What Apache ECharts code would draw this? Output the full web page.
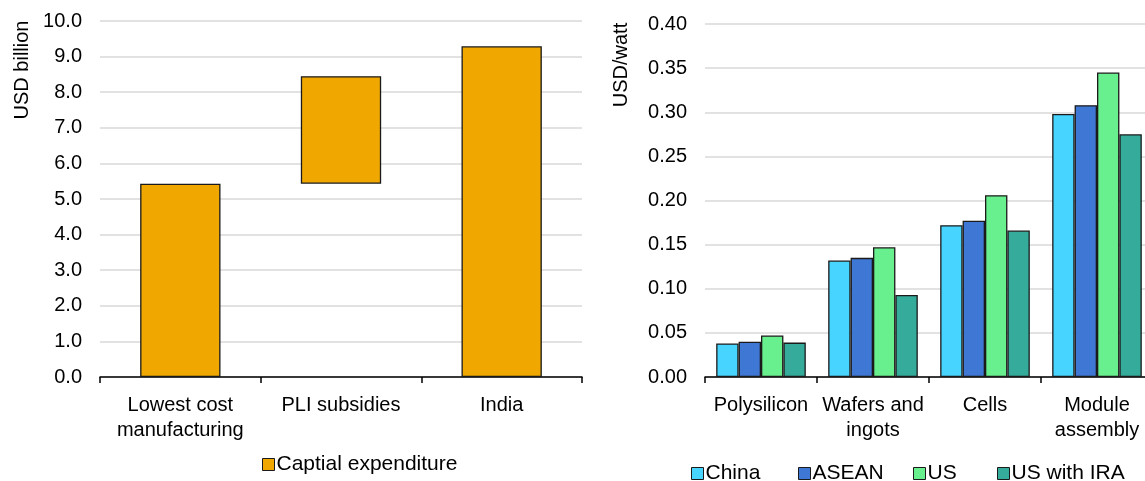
<!DOCTYPE html>
<html>
<head>
<meta charset="utf-8">
<script src="https://cdn.jsdelivr.net/npm/echarts@6/dist/echarts.min.js"></script>
<style>
html,body{margin:0;padding:0;background:#fff;}
#c{width:1145px;height:481px;}
</style>
</head>
<body>
<div id="c"></div>
<script>
// Left chart data
var leftCategories = ['Lowest cost\nmanufacturing', 'PLI subsidies', 'India'];
var leftBase = [0, 5.43, 0];
var leftValues = [5.43, 3.02, 9.29];
var leftSeriesName = 'Captial expenditure';

// Right chart data
var rightCategories = ['Polysilicon', 'Wafers and\ningots', 'Cells', 'Module\nassembly'];
var seriesNames = ['China', 'ASEAN', 'US', 'US with IRA'];
var china = [0.038, 0.132, 0.172, 0.298];
var asean = [0.040, 0.135, 0.177, 0.308];
var us = [0.047, 0.147, 0.206, 0.345];
var usIra = [0.039, 0.093, 0.166, 0.275];

var leftTicks = {min: 0, max: 10, interval: 1};
var rightTicks = {min: 0, max: 0.4, interval: 0.05};

var FONT = 'Liberation Sans, Arial, sans-serif';
var FS = 20;
var LFS = 21;
var colors = ['#47D4FF', '#3F78D4', '#68F08E', '#35AB9B'];
var border = '#1a1a1a';
var legendLefts = [686, 793, 908, 992];

var chart = echarts.init(document.getElementById('c'));

function yAxis(gi, t, dec) {
  return {
    type: 'value', gridIndex: gi, min: t.min, max: t.max, interval: t.interval,
    axisLine: {show: false}, axisTick: {show: false},
    axisLabel: {fontFamily: FONT, fontSize: FS, color: '#000', margin: 18,
      formatter: function (v) { return v.toFixed(dec); }},
    splitLine: {lineStyle: {color: '#d9d9d9', width: 1.5}}
  };
}
function xAxis(gi, cats) {
  return {
    type: 'category', gridIndex: gi, data: cats,
    axisLine: {lineStyle: {color: '#000', width: 1.5}},
    axisTick: {show: true, length: 6, lineStyle: {color: '#000', width: 1.5}},
    axisLabel: {fontFamily: FONT, fontSize: FS, color: '#000', margin: 16, lineHeight: 25, interval: 0}
  };
}
function legend(names, left, top) {
  return {data: names, left: left, top: top, icon: 'rect', itemWidth: 12, itemHeight: 12, itemGap: 3,
    textStyle: {fontFamily: FONT, fontSize: LFS, color: '#000', padding: [0, 0, 0, -3]},
    itemStyle: {borderColor: border, borderWidth: 1}};
}

var rightData = [china, asean, us, usIra];
var rightSeries = seriesNames.map(function (n, i) {
  return {
    name: n, type: 'bar', xAxisIndex: 1, yAxisIndex: 1, data: rightData[i],
    barGap: '0%', barCategoryGap: '20%',
    itemStyle: {color: colors[i], borderColor: border, borderWidth: 1.3}
  };
});

chart.setOption({
  animation: false,
  backgroundColor: '#fff',
  grid: [
    {left: 100, width: 482, top: 21, bottom: 104, containLabel: false, outerBoundsMode: 'none'},
    {left: 705, width: 448, top: 24, bottom: 104, containLabel: false, outerBoundsMode: 'none'}
  ],
  xAxis: [xAxis(0, leftCategories), xAxis(1, rightCategories)],
  yAxis: [yAxis(0, leftTicks, 1), yAxis(1, rightTicks, 2)],
  legend: [legend([leftSeriesName], 257, 449)].concat(seriesNames.map(function (n, i) {
    return legend([n], legendLefts[i], 458);
  })),
  graphic: [
    {type: 'text', x: 22, y: 70, rotation: Math.PI / 2,
      style: {text: 'USD billion', font: '20px ' + FONT, fill: '#000', textAlign: 'center', textVerticalAlign: 'middle'}},
    {type: 'text', x: 621, y: 65, rotation: Math.PI / 2,
      style: {text: 'USD/watt', font: '20px ' + FONT, fill: '#000', textAlign: 'center', textVerticalAlign: 'middle'}}
  ],
  series: [
    {name: 'base', type: 'bar', stack: 'w', data: leftBase, barWidth: '50%', silent: true,
      itemStyle: {color: 'transparent', borderWidth: 0}},
    {name: leftSeriesName, type: 'bar', stack: 'w', data: leftValues, barWidth: '50%',
      itemStyle: {color: '#F0A800', borderColor: border, borderWidth: 1.3}}
  ].concat(rightSeries)
});
</script>
</body>
</html>
